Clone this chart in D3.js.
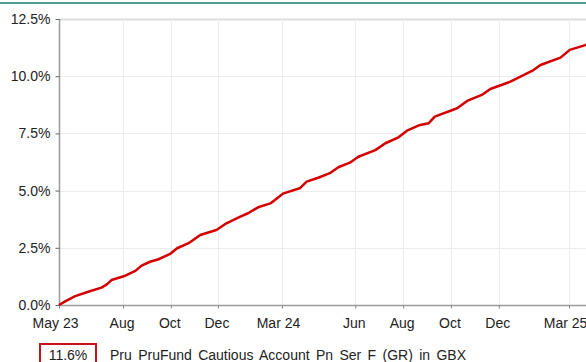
<!DOCTYPE html>
<html>
<head>
<meta charset="utf-8">
<script src="https://cdn.jsdelivr.net/npm/d3@7"></script>
<style>
  html, body { margin: 0; padding: 0; background: #fff; }
  svg { display: block; font-family: "Liberation Sans", Arial, sans-serif; }
</style>
</head>
<body>
<svg id="chart" width="586" height="362"></svg>
<script>
// Cumulative growth of the fund over the period (percent)
const dates = [
  "2023-05-10","2023-05-18","2023-05-31","2023-06-17","2023-07-04","2023-07-11","2023-07-17",
  "2023-08-04","2023-08-17","2023-08-25","2023-09-05","2023-09-16","2023-10-01","2023-10-10",
  "2023-10-25","2023-11-09","2023-11-30","2023-12-13","2023-12-31","2024-01-10","2024-01-23",
  "2024-02-08","2024-02-25","2024-03-17","2024-03-26","2024-04-10","2024-04-25","2024-05-06",
  "2024-05-21","2024-06-01","2024-06-23","2024-07-06","2024-07-23","2024-08-03","2024-08-20",
  "2024-08-31","2024-09-08","2024-10-07","2024-10-20","2024-11-08","2024-11-19","2024-12-15",
  "2024-12-19","2025-01-14","2025-01-23","2025-02-18","2025-03-02","2025-03-22","2025-04-05"
];
const growth = [
  0.00, 0.16, 0.39, 0.58, 0.76, 0.90, 1.09,
  1.28, 1.49, 1.72, 1.89, 2.00, 2.23, 2.48,
  2.70, 3.06, 3.28, 3.57, 3.86, 4.01, 4.27,
  4.44, 4.88, 5.10, 5.39, 5.56, 5.76, 6.02,
  6.22, 6.48, 6.77, 7.07, 7.33, 7.62, 7.87,
  7.94, 8.23, 8.60, 8.92, 9.18, 9.44, 9.76,
  9.83, 10.27, 10.49, 10.81, 11.15, 11.36, 11.60
];

// Axis ticks
const xTickDates = ["2023-05-10","2023-08-01","2023-10-02","2023-12-02","2024-02-23",
                    "2024-05-28","2024-07-29","2024-09-29","2024-11-30","2025-03-01"];
const xTickLabels = ["May 23","Aug","Oct","Dec","Mar 24","Jun","Aug","Oct","Dec","Mar 25"];
const yTicks = [0, 2.5, 5, 7.5, 10, 12.5];

const seriesName = "Pru PruFund Cautious Account Pn Ser F (GR) in GBX";

const parse = d3.utcParse("%Y-%m-%d");
const data = dates.map((d, i) => ({ date: parse(d), value: growth[i] }));

const W = 586, H = 362;
const plotLeft = 59, plotTop = 19, plotBottom = 305, plotRight = 596;
const fontSize = "14px";

const svg = d3.select("#chart");

const x = d3.scaleUtc()
  .domain([parse(dates[0]), parse(dates[dates.length - 1])])
  .range([plotLeft, plotRight]);
const y = d3.scaleLinear().domain([0, 12.5]).range([plotBottom, plotTop]);

// Top rule
svg.append("line")
  .attr("x1", 0).attr("x2", W).attr("y1", 3).attr("y2", 3)
  .attr("stroke", "#4f9d92").attr("stroke-width", 2);

// Grid
const grid = svg.append("g");
grid.selectAll("line.h").data(yTicks.slice(1)).join("line")
  .attr("x1", plotLeft).attr("x2", W)
  .attr("y1", d => Math.round(y(d)) + 0.5).attr("y2", d => Math.round(y(d)) + 0.5)
  .attr("stroke", d => d === 12.5 ? "#dcdcdc" : "#ececec")
  .attr("stroke-width", d => d === 12.5 ? 2 : 1);
grid.selectAll("line.v").data(xTickDates.slice(1)).join("line")
  .attr("x1", d => Math.round(x(parse(d))) + 0.5).attr("x2", d => Math.round(x(parse(d))) + 0.5)
  .attr("y1", plotTop).attr("y2", plotBottom)
  .attr("stroke", "#ececec").attr("stroke-width", 1);

// Y axis
const yAxis = d3.axisLeft(y).tickValues(yTicks).tickSize(4).tickPadding(5)
  .tickFormat(d => d.toFixed(1) + "%");
const gy = svg.append("g").attr("transform", `translate(${plotLeft + 0.5},0)`).call(yAxis);
gy.select(".domain").attr("stroke", "#9a9a9a").attr("stroke-width", 1.5)
  .attr("d", `M0,${plotTop}V${plotBottom}`);
gy.selectAll(".tick line").attr("stroke", "#666");
gy.selectAll(".tick text").attr("fill", "#222").style("font-size", fontSize)
  .style("font-family", "'Liberation Sans', Arial, sans-serif");

// X axis
const xAxis = d3.axisBottom(x).tickValues(xTickDates.map(parse)).tickSize(3).tickPadding(10)
  .tickFormat((d, i) => xTickLabels[i]);
const gx = svg.append("g").attr("transform", `translate(0,${plotBottom + 0.5})`).call(xAxis);
gx.select(".domain").attr("stroke", "#9a9a9a").attr("stroke-width", 1.5)
  .attr("d", `M${plotLeft},0H${W}`);
gx.selectAll(".tick line").attr("stroke", "#888");
gx.selectAll(".tick text").attr("fill", "#222").style("font-size", fontSize)
  .style("font-family", "'Liberation Sans', Arial, sans-serif")
  .attr("dx", (d, i) => /\d/.test(xTickLabels[i]) ? -4 : -1.5);

// Series line
const line = d3.line().x(d => x(d.date)).y(d => y(d.value));
svg.append("path").datum(data)
  .attr("fill", "none").attr("stroke", "#d40000").attr("stroke-width", 2.5)
  .attr("stroke-linejoin", "round")
  .attr("d", line);

// Legend
const last = data[data.length - 1].value;
svg.append("rect")
  .attr("x", 40).attr("y", 344).attr("width", 56).attr("height", 24)
  .attr("fill", "#fff").attr("stroke", "#c8101a").attr("stroke-width", 2);
svg.append("text")
  .attr("x", 68).attr("y", 359.5).attr("text-anchor", "middle")
  .attr("fill", "#222").style("font-size", fontSize)
  .text(last.toFixed(1) + "%");
const legendText = svg.append("text")
  .attr("x", 110).attr("y", 359.5)
  .attr("fill", "#222").style("font-size", fontSize)
  .text(seriesName);
// spread words across the legend's span
const natural = legendText.node().getComputedTextLength();
const gaps = seriesName.split(" ").length - 1;
legendText.style("word-spacing", ((356 - natural) / gaps) + "px");
</script>
</body>
</html>
